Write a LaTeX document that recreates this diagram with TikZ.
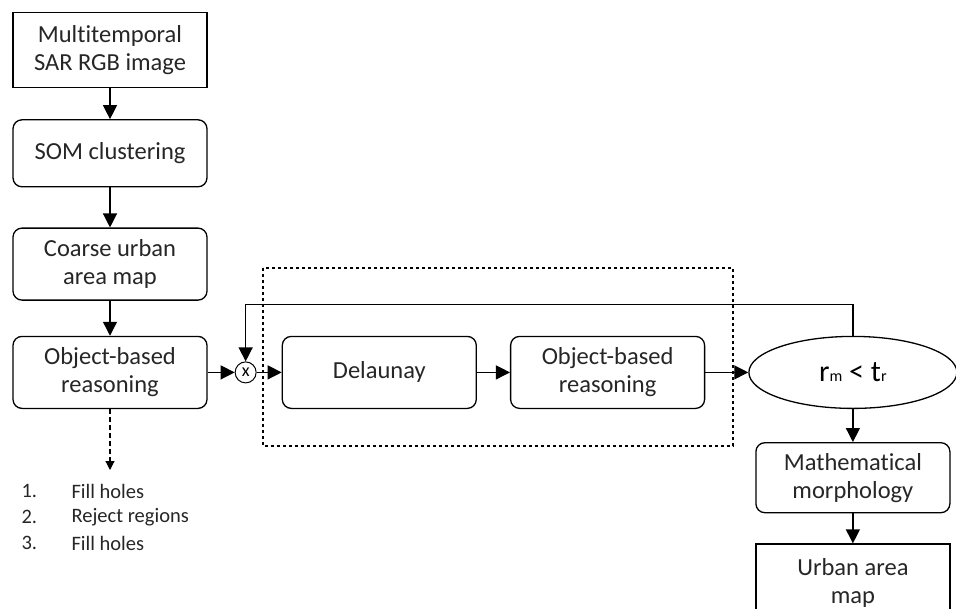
\documentclass[tikz,border=0pt]{standalone}
\usepackage{fontspec}
\setmainfont[Ligatures=CommonOff]{Carlito}
\usetikzlibrary{positioning,shapes.geometric,arrows.meta}

\begin{document}
\begin{tikzpicture}[x=1pt, y=-1pt,
  box/.style = {draw, rounded corners=9pt, minimum width=194pt, align=center,
                line width=1.3pt, text=black!85, font=\fontsize{24.5}{28}\selectfont},
  sqbox/.style = {box, rounded corners=0pt},
  arr/.style = {-{Triangle[length=14pt,width=14pt]}, line width=1.3pt},
  item/.style = {anchor=west, text=black!85, font=\fontsize{20.5}{23}\selectfont}]
\useasboundingbox (0,0) rectangle (956,608);

\node[sqbox, minimum height=75pt] (sar) at (110,50) {Multitemporal\\SAR RGB image};
\node[box, minimum height=67pt, below=31pt of sar] (som) {SOM clustering};
\node[box, minimum height=72pt, below=40pt of som] (coarse) {Coarse urban\\area map};
\node[box, minimum height=72pt, below=35pt of coarse] (obr1) {Object-based\\reasoning};
\node[draw, circle, line width=1pt, minimum size=21pt, inner sep=0pt, font=\fontsize{18}{18}\selectfont, right=27pt of obr1] (mult) {x};
\node[box, minimum height=72pt, right=25pt of mult] (del) {Delaunay};
\node[box, minimum height=72pt, right=33pt of del] (obr2) {Object-based\\reasoning};
\node[draw, ellipse, line width=1.3pt, minimum width=208pt, minimum height=72pt,
      font=\fontsize{30}{34}\selectfont, right=43pt of obr2] (test)
      {r{\fontsize{16}{16}\selectfont m} < t{\fontsize{16}{16}\selectfont r}};
\node[box, minimum height=70pt, below=33pt of test] (morph) {Mathematical\\morphology};
\node[sqbox, minimum height=78pt, below=30pt of morph] (urban) {Urban area\\map};

% refinement loop
\draw[dashed, line width=1.2pt] (263,268) rectangle (733,446);

\draw[arr] (sar) -- (som);
\draw[arr] (som) -- (coarse);
\draw[arr] (coarse) -- (obr1);
\draw[arr] (obr1) -- (mult);
\draw[arr] (mult) -- (del);
\draw[arr] (del) -- (obr2);
\draw[arr] (obr2) -- (test);
\draw[arr] (test.north) -- ++(0,-31) -| (mult.north);
\draw[arr] (test) -- (morph);
\draw[arr] (morph) -- (urban);

% post-processing steps
\coordinate (stepin) at (110,470);
\draw[-{Triangle[length=9pt,width=9pt]}, dash pattern=on 5pt off 3pt, line width=1.1pt] (obr1.south) -- (stepin);
\foreach \i/\t in {1/Fill holes, 2/Reject regions, 3/Fill holes} {
  \node[item] (num\i) at (18,465+26*\i) {\i.};
  \node[item] (txt\i) at (68,465+26*\i) {\t};
}
\end{tikzpicture}
\end{document}
